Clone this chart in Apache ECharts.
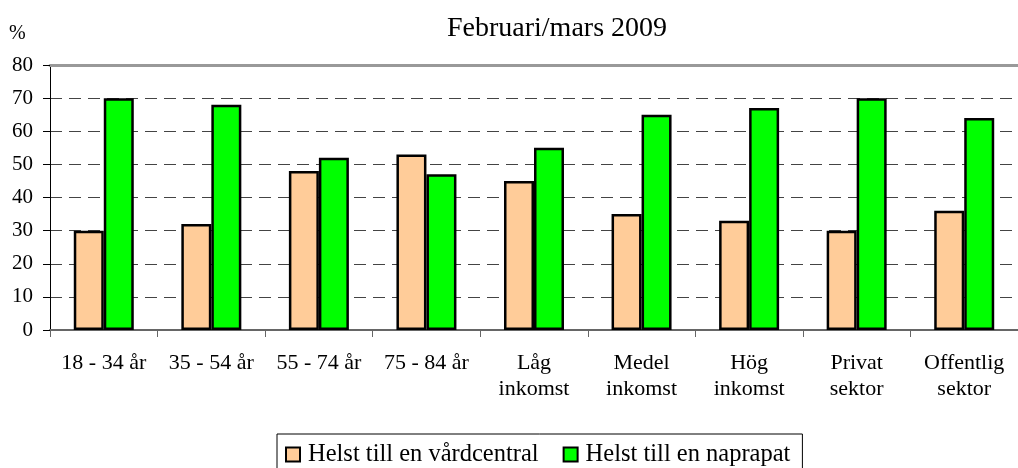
<!DOCTYPE html>
<html>
<head>
<meta charset="utf-8">
<script src="https://cdn.jsdelivr.net/npm/echarts@6/dist/echarts.min.js"></script>
<style>
html,body{margin:0;padding:0;background:#fff;}
#c{width:1018px;height:468px;}
</style>
</head>
<body>
<div id="c"></div>
<script>
var categories = ['18 - 34 år', '35 - 54 år', '55 - 74 år', '75 - 84 år', 'Låg\ninkomst', 'Medel\ninkomst', 'Hög\ninkomst', 'Privat\nsektor', 'Offentlig\nsektor'];
var vardcentral = [30, 32, 48, 53, 45, 35, 33, 30, 36];
var naprapat = [70, 68, 52, 47, 55, 65, 67, 70, 64];
var seriesNames = ['Helst till en vårdcentral', 'Helst till en naprapat'];
var subtitle = 'Februari/mars 2009';
var unitLabel = '%';

var font = 'Liberation Serif, Times New Roman, serif';
var chart = echarts.init(document.getElementById('c'), null, {renderer: 'canvas'});
chart.setOption({
  animation: false,
  backgroundColor: '#fff',
  textStyle: {fontFamily: font},
  graphic: [
    {type: 'text', x: 9, y: 34, style: {text: unitLabel, font: '20px ' + font, fill: '#000', textVerticalAlign: 'middle'}},
    {type: 'text', x: 557, y: 29, style: {text: subtitle, font: '28px ' + font, fill: '#000', textAlign: 'center', textVerticalAlign: 'middle'}}
  ],
  legend: {
    left: 277, top: 434,
    data: seriesNames,
    icon: 'rect', itemWidth: 14, itemHeight: 14, itemGap: 24,
    borderColor: '#000', borderWidth: 1,
    padding: [8, 12, 10, 8],
    textStyle: {fontFamily: font, fontSize: 24.5, color: '#000', padding: [0, 0, 0, 3]}
  },
  grid: {left: 50, top: 65, width: 972, height: 265, containLabel: false},
  xAxis: [{
    type: 'category',
    data: categories,
    axisLine: {show: true, lineStyle: {color: '#666', width: 2}},
    axisTick: {show: true, alignWithLabel: false, length: 7, lineStyle: {color: '#666', width: 1}},
    axisLabel: {interval: 0, fontFamily: font, fontSize: 22, color: '#000', lineHeight: 26, margin: 20, align: 'center'}
  }, {
    type: 'category',
    position: 'top',
    data: categories,
    axisLine: {show: true, lineStyle: {color: '#999', width: 3}},
    axisTick: {show: false},
    axisLabel: {show: false}
  }],
  yAxis: {
    type: 'value', min: 0, max: 80, interval: 10,
    axisLine: {show: true, lineStyle: {color: '#000', width: 1}},
    axisTick: {show: true, inside: false, length: 7, lineStyle: {color: '#000'}},
    axisLabel: {fontFamily: font, fontSize: 21, color: '#000', margin: 17},
    splitLine: {show: true, lineStyle: {color: '#444', type: [12, 7], width: 1}}
  },
  series: [{
    name: seriesNames[0], type: 'bar', data: vardcentral,
    barWidth: 30, barGap: '0%',
    itemStyle: {color: '#FFCC99', borderColor: '#000', borderWidth: 2.5}
  }, {
    name: seriesNames[1], type: 'bar', data: naprapat,
    barWidth: 30, barGap: '0%',
    itemStyle: {color: '#00FF00', borderColor: '#000', borderWidth: 2.5}
  }]
});
</script>
</body>
</html>
